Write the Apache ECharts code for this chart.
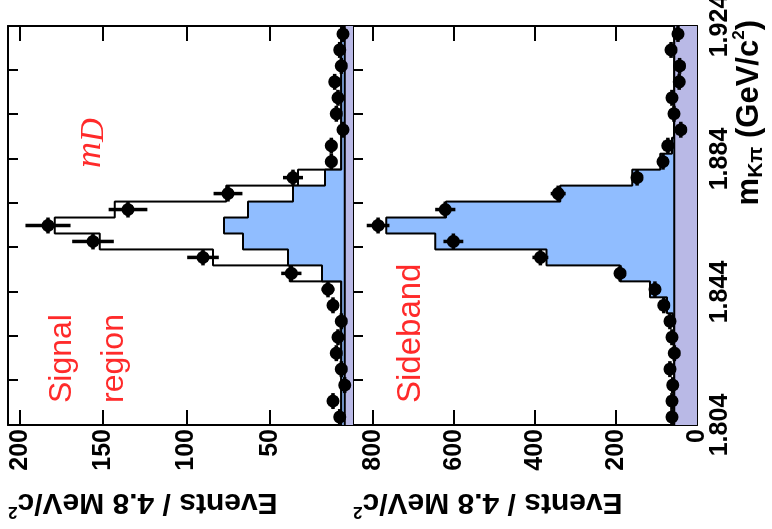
<!DOCTYPE html>
<html>
<head>
<meta charset="utf-8">
<script src="https://cdn.jsdelivr.net/npm/echarts@6/dist/echarts.min.js"></script>
<style>
  html, body { margin: 0; padding: 0; background: #fff; overflow: hidden; width: 772px; height: 529px; }
  /* The plot is laid out upright (mass axis horizontal) and turned a quarter turn counter-clockwise. */
  #chart { position: absolute; left: 0; top: 0; width: 529px; height: 772px;
           transform-origin: 0 0; transform: translateY(529px) rotate(-90deg); }
</style>
</head>
<body>
<div id="chart"></div>
<script>
// K pi invariant-mass binning (GeV/c^2), 4.8 MeV bins
const massLow = 1.804;
const massHigh = 1.924;
const binWidth = 0.0048;

// Axis ticks and labels
const massTickValues = [1.804, 1.844, 1.884, 1.924];
const massTickLabels = ['1.804', '1.844', '1.884', '1.924'];
const massMinorTicks = [1.804, 1.81733, 1.83067, 1.844, 1.85733, 1.87067, 1.884, 1.89733, 1.91067, 1.924];
const signalTicks = [50, 100, 150, 200];
const sidebandTicks = [0, 200, 400, 600, 800];

// Signal region: data and stacked fit components
const signalData = [8, 12, 5, 7, 10, 9, 7, 12, 15, 37, 90, 156, 183, 135, 75, 36, 13, 13, 6, 10, 9, 11, 7, 8, 6];
const signalBackground = [5, 5, 5, 5, 5, 5, 5, 5, 5, 5, 5, 5, 5, 5, 5, 5, 5, 5, 5, 5, 5, 5, 5, 5, 5];
const signalPeak = [7, 7, 7, 7, 7, 7, 7, 7, 7, 18.6, 39, 66, 77.4, 63, 36, 16.8, 7, 7, 7, 7, 7, 7, 7, 7, 7];
const signalTotal = [7, 7, 7, 7, 7, 7, 7, 7, 7, 38, 84, 152, 179, 143, 76, 33, 7, 7, 7, 7, 7, 7, 7, 7, 7];

// Sideband: data and stacked fit components
const sidebandData = [62, 62, 60, 67, 56, 62, 67, 82, 104, 190, 387, 602, 788, 622, 343, 148, 84, 72, 40, 57, 62, 44, 43, 64, 47];
const sidebandBackground = [56, 56, 56, 56, 56, 56, 56, 56, 56, 56, 56, 56, 56, 56, 56, 56, 56, 56, 56, 56, 56, 56, 56, 56, 56];
const sidebandPeak = [56, 56, 56, 56, 56, 57, 60, 74, 116, 190, 372, 647, 768, 620, 338, 160, 91, 62, 57, 56, 56, 56, 56, 56, 56];

const BLUE = '#90bdff';
const PURPLE = '#b9b9e6';
const RED = '#ff2a2a';
const TICK_FONT = 'Liberation Sans';

// Bin edges
const edges = [];
for (let i = 0; i <= signalData.length; i++) edges.push(+(massLow + i * binWidth).toFixed(4));

// Histogram outline points: one point per left edge, closed at the last edge
function stepPoints(vals) {
  const pts = vals.map((v, i) => [edges[i], v]);
  pts.push([edges[vals.length], vals[vals.length - 1]]);
  return pts;
}

function histSeries(vals, panel, fill, z) {
  return {
    type: 'line', xAxisIndex: panel * 2, yAxisIndex: panel * 2,
    data: stepPoints(vals), step: 'end', symbol: 'none', silent: true, z: z,
    lineStyle: { color: '#000', width: 2 },
    areaStyle: fill ? { color: fill, opacity: 1 } : null
  };
}

// Data points with Poisson errors and bin-width bars
function pointSeries(vals, panel) {
  return {
    type: 'custom', xAxisIndex: panel * 2, yAxisIndex: panel * 2, z: 10, silent: true,
    data: vals.map((v, i) => [(edges[i] + edges[i + 1]) / 2, v, i]),
    renderItem: function (params, api) {
      const m = api.value(0), v = api.value(1), i = api.value(2);
      const e = Math.sqrt(v);
      const c = api.coord([m, v]);
      const lo = api.coord([m, v - e]);
      const hi = api.coord([m, v + e]);
      const l = api.coord([edges[i], v]);
      const r = api.coord([edges[i + 1], v]);
      return {
        type: 'group',
        children: [
          { type: 'line', shape: { x1: c[0], y1: lo[1], x2: c[0], y2: hi[1] }, style: { stroke: '#000', lineWidth: 3.5 } },
          { type: 'line', shape: { x1: l[0], y1: c[1], x2: r[0], y2: c[1] }, style: { stroke: '#000', lineWidth: 3.5 } },
          { type: 'circle', shape: { cx: c[0], cy: c[1], r: 6.5 }, style: { fill: '#000' } }
        ]
      };
    }
  };
}

function massLabel(v) {
  let best = 0;
  massTickValues.forEach((t, k) => { if (Math.abs(t - v) < Math.abs(massTickValues[best] - v)) best = k; });
  return massTickLabels[best];
}

function massAxis(panel, position, withLabels) {
  return {
    type: 'value', gridIndex: panel, position: position, min: massLow, max: massHigh,
    axisLine: { show: true, onZero: false, lineStyle: { color: '#000', width: 2 } },
    axisTick: { show: true, inside: true, length: 10, customValues: massMinorTicks, lineStyle: { color: '#000', width: 2 } },
    axisLabel: withLabels ? {
      show: true, customValues: massTickValues, formatter: massLabel, margin: 11,
      fontSize: 25, fontWeight: 'bold', fontFamily: TICK_FONT, color: '#000'
    } : { show: false },
    splitLine: { show: false }
  };
}

function eventsAxis(panel, position, max, ticks, withLabels) {
  return {
    type: 'value', gridIndex: panel, position: position, min: 0, max: max,
    axisLine: { show: true, onZero: false, lineStyle: { color: '#000', width: 2 } },
    axisTick: { show: true, inside: true, length: 15, customValues: ticks, lineStyle: { color: '#000', width: 2 } },
    axisLabel: withLabels ? {
      show: true, customValues: ticks, margin: 4,
      fontSize: 25, fontWeight: 'bold', fontFamily: TICK_FONT, color: '#000'
    } : { show: false },
    splitLine: { show: false }
  };
}

const titleRich = {
  sup: { fontSize: 17, fontWeight: 'bold', fontFamily: TICK_FONT, verticalAlign: 'top', lineHeight: 36 },
  sub: { fontSize: 21, fontWeight: 'bold', fontFamily: TICK_FONT, verticalAlign: 'bottom', lineHeight: 36 }
};

function eventsTitle(yTop) {
  return {
    type: 'text', x: 9, y: yTop, rotation: Math.PI / 2, silent: true,
    style: {
      text: 'Events / 4.8 MeV/c{sup|2}', fill: '#000', align: 'right', verticalAlign: 'top',
      fontSize: 30, fontWeight: 'bold', fontFamily: TICK_FONT, lineHeight: 36, rich: titleRich
    }
  };
}

const chart = echarts.init(document.getElementById('chart'));
chart.setOption({
  animation: false,
  backgroundColor: '#fff',
  grid: [
    { left: 104, right: 26, top: 8, height: 345, containLabel: false, outerBoundsMode: 'none' },
    { left: 104, right: 26, top: 353, height: 344, containLabel: false, outerBoundsMode: 'none' }
  ],
  xAxis: [
    massAxis(0, 'bottom', false),
    massAxis(0, 'top', false),
    massAxis(1, 'bottom', true),
    massAxis(1, 'top', false)
  ],
  yAxis: [
    eventsAxis(0, 'left', 207, signalTicks, true),
    eventsAxis(0, 'right', 207, signalTicks, false),
    eventsAxis(1, 'left', 850, sidebandTicks, true),
    eventsAxis(1, 'right', 850, sidebandTicks, false)
  ],
  series: [
    histSeries(signalTotal, 0, null, 1),
    histSeries(signalPeak, 0, BLUE, 2),
    histSeries(signalBackground, 0, PURPLE, 3),
    pointSeries(signalData, 0),
    histSeries(sidebandPeak, 1, BLUE, 2),
    histSeries(sidebandBackground, 1, PURPLE, 3),
    pointSeries(sidebandData, 1)
  ],
  graphic: [
    eventsTitle(8),
    eventsTitle(353),
    {
      type: 'text', x: 509, y: 731, silent: true,
      style: {
        text: 'm{sub|Kπ} (GeV/c{sup|2})', fill: '#000', align: 'right', verticalAlign: 'top',
        fontSize: 31, fontWeight: 'bold', fontFamily: TICK_FONT, lineHeight: 36, rich: titleRich
      }
    },
    {
      type: 'text', x: 126, y: 36, silent: true,
      style: { text: 'Signal\nregion', fill: RED, fontSize: 32, fontFamily: 'Liberation Sans', lineHeight: 52, align: 'left', verticalAlign: 'top' }
    },
    {
      type: 'text', x: 126, y: 394, silent: true,
      style: { text: 'Sideband', fill: RED, fontSize: 33, fontFamily: 'Liberation Sans', align: 'left', verticalAlign: 'top' }
    },
    {
      type: 'text', x: 361, y: 72, silent: true,
      style: {
        text: 'm{d|D}', fill: RED, fontSize: 36, fontStyle: 'italic', fontFamily: 'Liberation Serif', lineHeight: 38,
        align: 'left', verticalAlign: 'top',
        rich: { d: { fontSize: 33, fontStyle: 'italic', fontFamily: 'Liberation Serif', fill: RED, padding: [6, 0, 0, 0] } }
      }
    }
  ]
});
</script>
</body>
</html>
